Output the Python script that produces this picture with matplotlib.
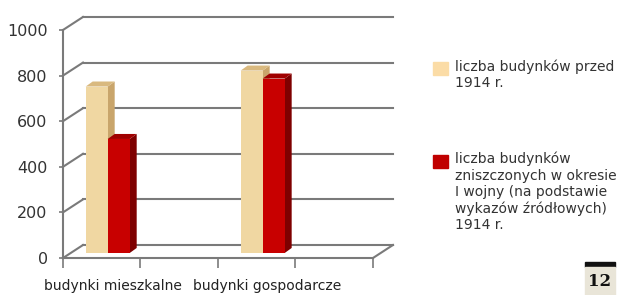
import matplotlib.pyplot as plt
from matplotlib.patches import Rectangle

categories = ['budynki mieszkalne', 'budynki gospodarcze']
cat_pos = [0, 2]
before_1914 = [730, 800]
destroyed = [500, 765]
y_ticks = [0, 200, 400, 600, 800, 1000]
legend_labels = ['liczba budynków przed\n1914 r.',
                 'liczba budynków\nzniszczonych w okresie\nI wojny (na podstawie\nwykazów źródłowych)\n1914 r.']
legend_colors = ['#fbdca6', '#c00000']

plt.rcParams['font.family'] = 'DejaVu Sans'

fig = plt.figure(figsize=(6.3, 2.95), dpi=100)
ax = fig.add_axes([0.1, 0.1254, 0.492, 0.773])
ax.set_xlim(-0.5, 3.5)
ax.set_ylim(0, 1000)
ax.patch.set_visible(False)

# fake 3d depth, in data units
back_dx, back_dy = 0.258, 57
bar_dx, bar_dy = 0.077, 22
side_dx, side_dy = 0.09, 22
bar_w = 0.284
grid_col = '#7a7a7a'

# back wall gridlines + diagonals from the front axis
for v in y_ticks:
    ax.plot([-0.5, -0.5 + back_dx], [v, v + back_dy], color=grid_col, lw=1.5, clip_on=False, zorder=1)
    ax.plot([-0.5 + back_dx, 3.5 + back_dx], [v + back_dy, v + back_dy], color=grid_col, lw=1.5,
            clip_on=False, zorder=1)
ax.plot([3.5, 3.5 + back_dx], [0, back_dy], color=grid_col, lw=1.5, clip_on=False, zorder=1)


def bar3d(x, h, front, side, top, z):
    x0 = x + bar_dx
    y0 = bar_dy
    ax.fill([x0 + bar_w, x0 + bar_w + side_dx, x0 + bar_w + side_dx, x0 + bar_w],
            [y0, y0 + side_dy, y0 + h + side_dy, y0 + h], color=side, zorder=z, lw=0)
    ax.fill([x0, x0 + side_dx, x0 + bar_w + side_dx, x0 + bar_w],
            [y0 + h, y0 + h + side_dy, y0 + h + side_dy, y0 + h], color=top, zorder=z, lw=0)
    ax.bar(x0, h, bar_w, bottom=y0, align='edge', color=front, zorder=z, lw=0)


for i, c in enumerate(cat_pos):
    bar3d(c - bar_w, before_1914[i], '#f0d7a2', '#c9a56b', '#d9b97f', 3)
    bar3d(c, destroyed[i], '#c80000', '#7e0000', '#a00000', 4)

for s in ['top', 'right']:
    ax.spines[s].set_visible(False)
for s in ['left', 'bottom']:
    ax.spines[s].set_color(grid_col)
    ax.spines[s].set_linewidth(1.5)

ax.set_yticks(y_ticks)
ax.tick_params(axis='y', length=3, width=1.2, color=grid_col, labelsize=11.5, labelcolor='#333333', pad=8)
ax.set_xticks([-0.5, 0.5, 1.5, 2.5, 3.5])
ax.set_xticklabels([])
ax.tick_params(axis='x', which='major', length=7, width=1.2, color=grid_col)
ax.set_xticks([c + 0.14 for c in cat_pos], minor=True)
ax.set_xticklabels(categories, minor=True)
ax.tick_params(axis='x', which='minor', length=0, pad=15, labelsize=10, labelcolor='#222222')

# legend
W, H = 630, 295
for lab, col, top in zip(legend_labels, legend_colors, [62, 155]):
    fig.add_artist(Rectangle((433 / W, 1 - (top + 13) / H), 15 / W, 13 / H, color=col, transform=fig.transFigure))
    fig.text(455 / W, 1 - (top - 3) / H, lab, fontsize=10, color='#333333', va='top', ha='left', linespacing=1.2)

# page number badge
fig.add_artist(Rectangle((585 / W, 1 - 267 / H), 30 / W, 5 / H, color='#111111', transform=fig.transFigure))
fig.add_artist(Rectangle((585 / W, 0), 30 / W, 28 / H, color='#e9e5d8', transform=fig.transFigure))
fig.text(600 / W, 1 - 281 / H, '12', fontsize=12, fontweight='bold', family='DejaVu Serif',
         ha='center', va='center', color='#111111')

fig.savefig('out.png', dpi=100)
